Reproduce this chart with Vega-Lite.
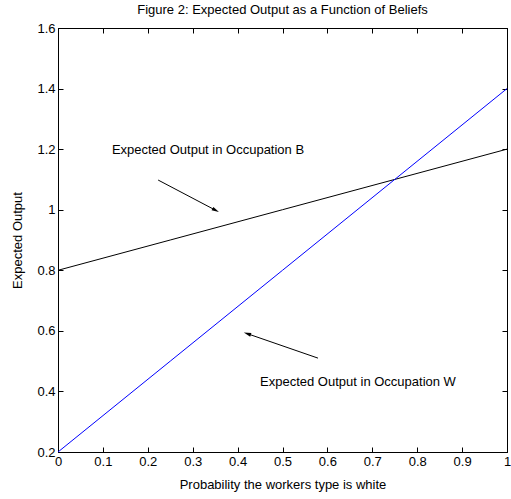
{
  "$schema": "https://vega.github.io/schema/vega-lite/v6.json",
  "width": 449,
  "height": 424,
  "autosize": {"type": "none"},
  "padding": {"left": 58, "top": 28, "right": 4, "bottom": 47},
  "background": "white",
  "title": {"text": "Figure 2: Expected Output as a Function of Beliefs", "font": "Liberation Sans", "fontSize": 13, "fontWeight": "normal", "color": "black", "anchor": "middle", "offset": 5},
  "config": {
    "view": {"stroke": "black", "strokeWidth": 1},
    "axis": {"grid": false, "domainColor": "black", "tickColor": "black", "labelColor": "black", "titleColor": "black", "labelFont": "Liberation Sans", "titleFont": "Liberation Sans", "labelFontSize": 13, "titleFontSize": 13, "titleFontWeight": "normal", "tickSize": -5, "labelPadding": 8, "labelFlush": false, "labelOverlap": false}
  },
  "datasets": {
    "lines": [
      {"p": 0, "v": 0.8, "s": "B"}, {"p": 0.25, "v": 0.9, "s": "B"}, {"p": 0.5, "v": 1.0, "s": "B"}, {"p": 0.75, "v": 1.1, "s": "B"}, {"p": 1, "v": 1.2, "s": "B"},
      {"p": 0, "v": 0.2, "s": "W"}, {"p": 0.25, "v": 0.5, "s": "W"}, {"p": 0.5, "v": 0.8, "s": "W"}, {"p": 0.75, "v": 1.1, "s": "W"}, {"p": 1, "v": 1.4, "s": "W"}
    ],
    "arrows": [
      {"x1": 0.223, "y1": 1.098, "x2": 0.35, "y2": 0.999, "ang": 117.8},
      {"x1": 0.579, "y1": 0.51, "x2": 0.423, "y2": 0.59, "ang": 288.9}
    ],
    "labels": [
      {"x": 0.12, "y": 1.197, "t": "Expected Output in Occupation B"},
      {"x": 0.45, "y": 0.431, "t": "Expected Output in Occupation W"}
    ]
  },
  "resolve": {"axis": {"x": "independent", "y": "independent"}},
  "layer": [
    {
      "data": {"name": "lines"},
      "mark": {"type": "line", "strokeWidth": 1},
      "encoding": {
        "x": {"field": "p", "type": "quantitative", "scale": {"domain": [0, 1], "nice": false}, "axis": {"title": "Probability the workers type is white", "values": [0,0.1,0.2,0.3,0.4,0.5,0.6,0.7,0.8,0.9,1], "format": "~g", "titlePadding": 10}},
        "y": {"field": "v", "type": "quantitative", "scale": {"domain": [0.2, 1.6], "nice": false, "zero": false}, "axis": {"title": "Expected Output", "values": [0.2,0.4,0.6,0.8,1,1.2,1.4,1.6], "format": "~g", "titlePadding": 12}},
        "color": {"field": "s", "type": "nominal", "scale": {"domain": ["B", "W"], "range": ["black", "blue"]}, "legend": null}
      }
    },
    {
      "data": {"name": "arrows"},
      "mark": {"type": "rule", "color": "black", "strokeWidth": 1},
      "encoding": {
        "x": {"field": "x1", "type": "quantitative", "axis": {"orient": "top", "labels": false, "title": null, "values": [0,0.1,0.2,0.3,0.4,0.5,0.6,0.7,0.8,0.9,1]}},
        "y": {"field": "y1", "type": "quantitative", "axis": {"orient": "right", "labels": false, "title": null, "values": [0.2,0.4,0.6,0.8,1,1.2,1.4,1.6]}},
        "x2": {"field": "x2"},
        "y2": {"field": "y2"}
      }
    },
    {
      "data": {"name": "arrows"},
      "mark": {"type": "point", "shape": "M0,-1L0.45,0.7L-0.45,0.7Z", "filled": true, "color": "black", "size": 75, "opacity": 1},
      "encoding": {
        "x": {"field": "x2", "type": "quantitative", "axis": null},
        "y": {"field": "y2", "type": "quantitative", "axis": null},
        "angle": {"field": "ang", "type": "quantitative", "scale": null}
      }
    },
    {
      "data": {"name": "labels"},
      "mark": {"type": "text", "align": "left", "baseline": "middle", "font": "Liberation Sans", "fontSize": 13, "color": "black"},
      "encoding": {
        "x": {"field": "x", "type": "quantitative", "axis": null},
        "y": {"field": "y", "type": "quantitative", "axis": null},
        "text": {"field": "t"}
      }
    }
  ]
}
